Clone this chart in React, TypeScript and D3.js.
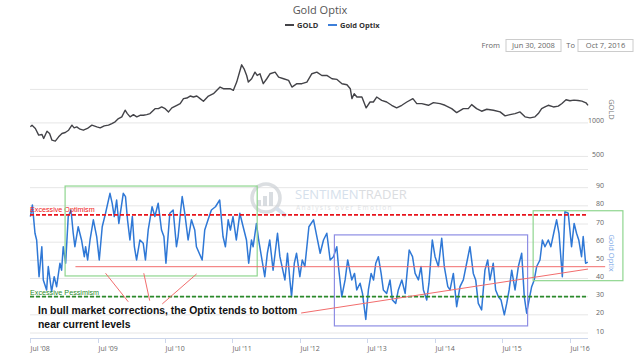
import { useEffect, useRef } from "react";
import * as d3 from "d3";

const rangeStart = "2008-06-30";
const rangeEnd = "2016-10-07";
const rangeFromLabel = "Jun 30, 2008";
const rangeToLabel = "Oct 7, 2016";

// gold close
const gold: [string, number][] = [
  ["2008-07-02", 941], ["2008-07-11", 964], ["2008-07-29", 917], ["2008-08-16", 817], ["2008-09-03", 827],
  ["2008-09-12", 768], ["2008-09-30", 876], ["2008-10-14", 842], ["2008-10-27", 742], ["2008-11-14", 728],
  ["2008-12-02", 792], ["2008-12-20", 842], ["2009-01-07", 857], ["2009-01-25", 891], ["2009-02-12", 966],
  ["2009-02-24", 926], ["2009-03-10", 941], ["2009-03-28", 906], ["2009-04-15", 891], ["2009-05-07", 917],
  ["2009-05-31", 966], ["2009-06-27", 941], ["2009-07-15", 926], ["2009-08-06", 956], ["2009-08-29", 966],
  ["2009-09-16", 990], ["2009-10-04", 1016], ["2009-10-22", 1064], ["2009-11-09", 1090], ["2009-11-27", 1189],
  ["2009-12-09", 1139], ["2009-12-24", 1090], ["2010-01-11", 1124], ["2010-01-29", 1090], ["2010-02-16", 1114],
  ["2010-03-06", 1114], ["2010-03-24", 1124], ["2010-04-11", 1139], ["2010-05-08", 1213], ["2010-05-26", 1213],
  ["2010-06-13", 1238], ["2010-07-02", 1213], ["2010-07-20", 1164], ["2010-08-07", 1224], ["2010-09-03", 1263],
  ["2010-09-21", 1287], ["2010-10-09", 1362], ["2010-10-27", 1371], ["2010-11-14", 1401], ["2010-12-02", 1386],
  ["2010-12-20", 1401], ["2011-01-07", 1362], ["2011-01-25", 1323], ["2011-02-21", 1401], ["2011-03-20", 1436],
  ["2011-04-25", 1535], ["2011-05-13", 1510], ["2011-06-18", 1510], ["2011-07-06", 1486], ["2011-07-24", 1609],
  ["2011-08-11", 1783], ["2011-08-20", 1867], ["2011-09-02", 1807], ["2011-09-16", 1708], ["2011-09-25", 1609],
  ["2011-10-13", 1659], ["2011-10-31", 1758], ["2011-11-12", 1708], ["2011-11-27", 1734], ["2011-12-15", 1585],
  ["2012-01-03", 1659], ["2012-01-21", 1734], ["2012-02-17", 1758], ["2012-03-07", 1684], ["2012-04-03", 1659],
  ["2012-04-30", 1634], ["2012-05-18", 1535], ["2012-06-14", 1585], ["2012-07-11", 1585], ["2012-08-07", 1609],
  ["2012-09-03", 1734], ["2012-09-30", 1758], ["2012-10-27", 1708], ["2012-11-23", 1708], ["2012-12-21", 1659],
  ["2013-01-17", 1649], ["2013-02-13", 1585], ["2013-03-12", 1570], ["2013-03-30", 1510], ["2013-04-08", 1362],
  ["2013-04-20", 1436], ["2013-05-05", 1386], ["2013-06-01", 1386], ["2013-06-24", 1224], ["2013-07-15", 1312],
  ["2013-08-02", 1312], ["2013-08-20", 1386], ["2013-09-16", 1337], ["2013-10-13", 1312], ["2013-11-09", 1263],
  ["2013-12-06", 1224], ["2014-01-03", 1263], ["2014-01-30", 1312], ["2014-03-04", 1362], ["2014-03-25", 1287],
  ["2014-04-21", 1287], ["2014-05-27", 1263], ["2014-06-23", 1302], ["2014-07-29", 1287], ["2014-08-25", 1263],
  ["2014-09-30", 1213], ["2014-10-27", 1154], ["2014-12-02", 1213], ["2014-12-29", 1213], ["2015-01-16", 1273],
  ["2015-02-12", 1213], ["2015-03-11", 1174], ["2015-04-08", 1204], ["2015-05-14", 1189], ["2015-06-19", 1164],
  ["2015-07-16", 1105], ["2015-08-12", 1124], ["2015-09-08", 1139], ["2015-10-05", 1164], ["2015-11-01", 1090],
  ["2015-11-28", 1075], ["2015-12-25", 1090], ["2016-01-12", 1139], ["2016-01-30", 1213], ["2016-02-17", 1238],
  ["2016-03-06", 1263], ["2016-04-03", 1238], ["2016-04-29", 1250], ["2016-05-19", 1290], ["2016-06-10", 1345],
  ["2016-07-01", 1330], ["2016-07-23", 1340], ["2016-08-14", 1335], ["2016-09-04", 1325], ["2016-09-26", 1300],
  ["2016-10-07", 1262],
];

// Gold Optix sentiment
const optix: [string, number][] = [
  ["2008-07-02", 74.1], ["2008-07-13", 80.5], ["2008-07-27", 64.9], ["2008-08-05", 61.2], ["2008-08-18", 41.0],
  ["2008-09-02", 57.5], ["2008-09-10", 39.2], ["2008-09-28", 33.7], ["2008-10-07", 46.6], ["2008-10-25", 32.8],
  ["2008-11-08", 41.0], ["2008-11-21", 35.5], ["2008-12-09", 48.4], ["2008-12-18", 44.6], ["2008-12-27", 57.5],
  ["2009-01-09", 48.4], ["2009-01-23", 74.1], ["2009-02-07", 77.7], ["2009-02-19", 64.9], ["2009-02-28", 57.5],
  ["2009-03-18", 68.5], ["2009-04-05", 61.2], ["2009-04-20", 52.0], ["2009-04-27", 57.5], ["2009-05-08", 50.2],
  ["2009-05-21", 61.2], ["2009-06-08", 72.3], ["2009-06-26", 63.1], ["2009-07-10", 50.2], ["2009-07-26", 68.5],
  ["2009-08-13", 75.9], ["2009-09-06", 86.9], ["2009-09-18", 81.4], ["2009-09-29", 74.1], ["2009-10-12", 83.2],
  ["2009-10-24", 70.3], ["2009-11-17", 86.9], ["2009-11-29", 85.1], ["2009-12-10", 72.3], ["2009-12-23", 61.2],
  ["2010-01-05", 74.1], ["2010-01-16", 57.5], ["2010-01-28", 50.2], ["2010-02-15", 61.2], ["2010-03-05", 59.4],
  ["2010-03-17", 50.2], ["2010-04-01", 66.7], ["2010-04-22", 79.5], ["2010-05-07", 74.1], ["2010-05-25", 81.4],
  ["2010-06-12", 66.7], ["2010-06-25", 63.1], ["2010-07-06", 48.4], ["2010-07-27", 75.9], ["2010-08-14", 77.7],
  ["2010-09-01", 57.5], ["2010-09-10", 63.1], ["2010-09-24", 77.7], ["2010-10-02", 85.1], ["2010-10-16", 75.9],
  ["2010-11-03", 61.2], ["2010-11-21", 72.3], ["2010-12-09", 66.7], ["2010-12-18", 57.5], ["2011-01-18", 50.2],
  ["2011-02-01", 66.7], ["2011-02-19", 72.3], ["2011-03-09", 77.7], ["2011-03-31", 79.5], ["2011-04-23", 83.2],
  ["2011-05-11", 63.1], ["2011-05-24", 57.5], ["2011-06-08", 72.3], ["2011-06-20", 66.7], ["2011-07-04", 74.1],
  ["2011-07-22", 61.2], ["2011-08-10", 75.9], ["2011-08-28", 68.5], ["2011-09-15", 61.2], ["2011-09-27", 48.4],
  ["2011-10-12", 61.2], ["2011-10-21", 57.5], ["2011-11-08", 70.3], ["2011-11-20", 61.2], ["2011-12-23", 41.0],
  ["2012-01-06", 53.9], ["2012-01-19", 61.2], ["2012-02-06", 44.6], ["2012-03-01", 64.9], ["2012-03-14", 52.0],
  ["2012-04-10", 39.2], ["2012-04-24", 53.9], ["2012-05-07", 39.2], ["2012-05-16", 30.0], ["2012-05-31", 48.4],
  ["2012-06-12", 53.9], ["2012-06-30", 41.0], ["2012-07-13", 50.2], ["2012-07-27", 46.6], ["2012-08-18", 68.5],
  ["2012-09-12", 72.3], ["2012-09-30", 63.1], ["2012-10-18", 53.9], ["2012-11-05", 61.2], ["2012-11-23", 64.9],
  ["2012-12-11", 50.2], ["2012-12-29", 52.0], ["2013-01-16", 57.5], ["2013-01-25", 46.6], ["2013-02-12", 30.0],
  ["2013-03-02", 39.2], ["2013-03-16", 50.2], ["2013-04-07", 39.2], ["2013-04-22", 42.8], ["2013-05-04", 33.7],
  ["2013-05-22", 37.4], ["2013-06-04", 31.8], ["2013-06-22", 17.5], ["2013-07-06", 33.7], ["2013-07-21", 42.8],
  ["2013-08-03", 39.2], ["2013-08-15", 48.4], ["2013-08-29", 52.0], ["2013-09-13", 42.8], ["2013-09-25", 33.7],
  ["2013-10-13", 31.8], ["2013-10-31", 39.2], ["2013-11-13", 28.2], ["2013-12-01", 26.3], ["2013-12-15", 33.7],
  ["2014-01-03", 39.2], ["2014-01-21", 31.8], ["2014-02-12", 55.7], ["2014-03-02", 52.0], ["2014-03-16", 42.8],
  ["2014-04-03", 39.2], ["2014-04-17", 46.6], ["2014-04-30", 33.7], ["2014-05-18", 28.2], ["2014-05-30", 37.4],
  ["2014-06-17", 61.2], ["2014-07-02", 52.0], ["2014-07-20", 46.6], ["2014-08-07", 62.1], ["2014-08-21", 46.6],
  ["2014-09-09", 35.5], ["2014-09-21", 33.7], ["2014-10-09", 42.8], ["2014-10-27", 24.5], ["2014-11-14", 35.5],
  ["2014-12-02", 39.2], ["2014-12-20", 48.4], ["2015-01-07", 57.5], ["2015-01-25", 42.8], ["2015-02-07", 39.2],
  ["2015-02-21", 26.3], ["2015-03-11", 22.7], ["2015-03-29", 44.6], ["2015-04-13", 50.2], ["2015-04-25", 39.2],
  ["2015-05-13", 48.4], ["2015-05-26", 33.7], ["2015-06-10", 30.0], ["2015-06-24", 28.2], ["2015-07-12", 20.0],
  ["2015-07-25", 26.3], ["2015-08-07", 33.7], ["2015-08-21", 44.6], ["2015-09-08", 33.7], ["2015-09-26", 46.6],
  ["2015-10-14", 53.9], ["2015-10-28", 30.0], ["2015-11-10", 20.9], ["2015-11-23", 28.2], ["2015-12-07", 35.5],
  ["2015-12-21", 39.2], ["2016-01-03", 46.6], ["2016-01-21", 50.2], ["2016-02-03", 61.2], ["2016-02-17", 57.5],
  ["2016-03-06", 61.2], ["2016-03-20", 57.5], ["2016-04-08", 66.7], ["2016-04-20", 72.3], ["2016-05-03", 64.9],
  ["2016-05-21", 41.0], ["2016-06-04", 76.8], ["2016-06-22", 75.9], ["2016-07-10", 57.5], ["2016-07-24", 70.3],
  ["2016-08-06", 64.9], ["2016-08-18", 61.2], ["2016-09-02", 52.0], ["2016-09-11", 63.1], ["2016-09-24", 48.4],
  ["2016-10-06", 49.0],
];

const optimismLevel = 75;
const pessimismLevel = 30;
const goldGrid = [500, 1000, 1500];
const goldLabels = [500, 1000];
const optixGrid = [10, 20, 30, 40, 50, 60, 70, 80, 90, 100];
const optixLabels = [10, 20, 30, 40, 50, 60, 70, 80, 90];

// hand-drawn markup on the lower pane, in date / value terms
const greenBoxes: [string, string, number, number][] = [
  ["2009-01-06", "2011-11-12", 90.9, 41.4],
  ["2015-12-15", "2017-04-14", 77.3, 38.8],
];
const blueBoxes: [string, string, number, number][] = [["2013-01-03", "2015-11-15", 64.0, 13.9]];
const redSegments: [string, number, string, number][] = [
  ["2009-03-03", 46.5, "2017-01-08", 46.5],
  ["2012-07-07", 21.0, "2016-10-07", 45.2],
  ["2009-08-13", 42.9, "2009-12-14", 27.2],
  ["2010-03-08", 42.9, "2010-04-09", 27.8],
  ["2010-12-19", 42.5, "2010-06-16", 26.0],
];
const noteLines = ["In bull market corrections, the Optix tends to bottom", "near current levels"];

const FONT = "'Open Sans', sans-serif";

export default function App() {
  const ref = useRef<SVGSVGElement>(null);
  useEffect(() => {
    if (!ref.current) return;
    const svg = d3.select(ref.current);
    svg.selectAll("*").remove();
    const parse = d3.timeParse("%Y-%m-%d");
    const left = 30;
    const right = 588;
    const axisY = 338;

    const x = d3.scaleTime().domain([parse(rangeStart)!, parse(rangeEnd)!]).range([left, right]);
    const yG = d3.scaleLinear().domain([500, 1500]).range([156.4, 89.4]);
    const yO = d3.scaleLinear().domain([10, 100]).range([333, 169.5]);

    svg.append("rect").attr("width", 640).attr("height", 354).attr("fill", "#fff");

    // title + legend
    svg.append("text").attr("x", 320).attr("y", 14).attr("text-anchor", "middle")
      .attr("font-family", FONT).attr("font-size", 11).attr("fill", "#555").text("Gold Optix");
    const legend = [
      { name: "GOLD", color: "#434348", x: 285 },
      { name: "Gold Optix", color: "#3d7fd9", x: 328 },
    ];
    legend.forEach((l) => {
      svg.append("line").attr("x1", l.x).attr("x2", l.x + 9).attr("y1", 25).attr("y2", 25)
        .attr("stroke", l.color).attr("stroke-width", 2);
      svg.append("text").attr("x", l.x + 12).attr("y", 27.8).attr("font-family", FONT)
        .attr("font-size", 7.5).attr("font-weight", "bold").attr("fill", "#333").text(l.name);
    });

    // range selector inputs
    const inputs = [
      { label: "From", lx: 500, bx: 506, w: 55, text: rangeFromLabel },
      { label: "To", lx: 575, bx: 578, w: 55, text: rangeToLabel },
    ];
    inputs.forEach((b) => {
      svg.append("text").attr("x", b.lx).attr("y", 48).attr("text-anchor", "end").attr("font-family", FONT)
        .attr("font-size", 7.5).attr("fill", "#666").text(b.label);
      svg.append("rect").attr("x", b.bx).attr("y", 39.5).attr("width", b.w).attr("height", 12)
        .attr("fill", "#fff").attr("stroke", "#ccc").attr("stroke-width", 1);
      svg.append("text").attr("x", b.bx + b.w / 2).attr("y", 48.3).attr("text-anchor", "middle")
        .attr("font-family", FONT).attr("font-size", 7.5).attr("fill", "#666").text(b.text);
    });

    // grids
    goldGrid.forEach((v) => {
      svg.append("line").attr("x1", left).attr("x2", right).attr("y1", yG(v)).attr("y2", yG(v))
        .attr("stroke", "#e6e6e6").attr("stroke-width", 1);
    });
    optixGrid.forEach((v) => {
      svg.append("line").attr("x1", left).attr("x2", right).attr("y1", yO(v)).attr("y2", yO(v))
        .attr("stroke", "#e6e6e6").attr("stroke-width", 1);
    });
    goldLabels.forEach((v) => {
      svg.append("text").attr("x", 604).attr("y", yG(v) + 0.5).attr("text-anchor", "end")
        .attr("font-family", FONT).attr("font-size", 7).attr("fill", "#666").text(v);
    });
    optixLabels.forEach((v) => {
      svg.append("text").attr("x", 604).attr("y", yO(v) + 0.5).attr("text-anchor", "end")
        .attr("font-family", FONT).attr("font-size", 7).attr("fill", "#666").text(v);
    });
    svg.append("text").attr("transform", `translate(609,${yG(1200)}) rotate(90)`).attr("text-anchor", "middle")
      .attr("font-family", FONT).attr("font-size", 7.5).attr("fill", "#777").text("GOLD");
    svg.append("text").attr("transform", `translate(609,${yO(54)}) rotate(90)`).attr("text-anchor", "middle")
      .attr("font-family", FONT).attr("font-size", 7.5).attr("fill", "#7aa6e6").text("Gold Optix");

    // watermark
    const wm = svg.append("g").attr("opacity", 0.75);
    wm.append("circle").attr("cx", 266).attr("cy", 198).attr("r", 14).attr("fill", "none")
      .attr("stroke", "#cfd3d8").attr("stroke-width", 3.5);
    [[259, 6], [265, 10], [271, 14]].forEach(([bx, bh]) => {
      wm.append("rect").attr("x", bx - 2).attr("y", 206 - bh).attr("width", 4).attr("height", bh).attr("fill", "#cdd2d8");
    });
    wm.append("line").attr("x1", 276).attr("y1", 208).attr("x2", 286).attr("y2", 216)
      .attr("stroke", "#c9d6e6").attr("stroke-width", 4);
    wm.append("text").attr("x", 295).attr("y", 198.5).attr("font-family", FONT).attr("font-size", 13)
      .attr("fill", "#c9d6e6").text("SENTIMEN")
      .append("tspan").attr("fill", "#cfd2d6").text("TRADER");
    wm.append("text").attr("x", 296).attr("y", 210).attr("font-family", FONT).attr("font-size", 6.6)
      .attr("letter-spacing", 1.4).attr("fill", "#d6d9dd").text("Analysis over Emotion");

    const date = (d: string) => parse(d)!;

    // gold line
    const goldLine = d3.line<[string, number]>().x((d) => x(date(d[0]))).y((d) => yG(d[1]));
    svg.append("path").attr("d", goldLine(gold)!).attr("fill", "none").attr("stroke", "#434348")
      .attr("stroke-width", 1.4).attr("stroke-linejoin", "round");

    // optix line
    const optixLine = d3.line<[string, number]>().x((d) => x(date(d[0]))).y((d) => yO(d[1]));
    svg.append("path").attr("d", optixLine(optix)!).attr("fill", "none").attr("stroke", "#2f78d6")
      .attr("stroke-width", 1.5).attr("stroke-linejoin", "round");

    // plot lines
    svg.append("line").attr("x1", left).attr("x2", right).attr("y1", yO(optimismLevel)).attr("y2", yO(optimismLevel))
      .attr("stroke", "#e8141c").attr("stroke-width", 1.6).attr("stroke-dasharray", "4,2");
    svg.append("line").attr("x1", left).attr("x2", right).attr("y1", yO(pessimismLevel)).attr("y2", yO(pessimismLevel))
      .attr("stroke", "#2b8a2b").attr("stroke-width", 1.6).attr("stroke-dasharray", "4,2");
    svg.append("text").attr("x", left).attr("y", yO(optimismLevel) - 2.5).attr("font-family", "'Liberation Sans', Arial")
      .attr("font-size", 7.2).attr("fill", "#f01818").text("Excessive Optimism");
    svg.append("text").attr("x", left).attr("y", yO(pessimismLevel) - 2).attr("font-family", "'Liberation Sans', Arial")
      .attr("font-size", 7.2).attr("fill", "#2b8a2b").text("Excessive Pessimism");

    // markup
    greenBoxes.forEach(([a, b, hi, lo]) => {
      svg.append("rect").attr("x", x(date(a))).attr("y", yO(hi)).attr("width", x(date(b)) - x(date(a)))
        .attr("height", yO(lo) - yO(hi)).attr("fill", "none").attr("stroke", "#8fd68f").attr("stroke-width", 1.2);
    });
    blueBoxes.forEach(([a, b, hi, lo]) => {
      svg.append("rect").attr("x", x(date(a))).attr("y", yO(hi)).attr("width", x(date(b)) - x(date(a)))
        .attr("height", yO(lo) - yO(hi)).attr("fill", "none").attr("stroke", "#8e8ee4").attr("stroke-width", 1.2);
    });
    redSegments.forEach(([a, va, b, vb]) => {
      svg.append("line").attr("x1", x(date(a))).attr("y1", yO(va)).attr("x2", x(date(b))).attr("y2", yO(vb))
        .attr("stroke", "#f26d6d").attr("stroke-width", 1);
    });
    noteLines.forEach((t, i) => {
      svg.append("text").attr("x", left + 8).attr("y", axisY - 24 + i * 14)
        .attr("font-family", "'Liberation Sans', Arial").attr("font-weight", "bold").attr("font-size", 10.4)
        .attr("fill", "#111").text(t);
    });

    // x axis
    svg.append("line").attr("x1", left).attr("x2", right).attr("y1", axisY + 0.5).attr("y2", axisY + 0.5)
      .attr("stroke", "#ccd6eb").attr("stroke-width", 1);
    const ticks = d3.timeMonth.range(x.domain()[0], x.domain()[1]).filter((d) => d.getMonth() === 6);
    const fmt = d3.timeFormat("%b '%y");
    ticks.forEach((t) => {
      const tx = Math.round(x(t)) + 0.5;
      svg.append("line").attr("x1", tx).attr("x2", tx).attr("y1", axisY).attr("y2", axisY + 5)
        .attr("stroke", "#ccd6eb").attr("stroke-width", 1);
      svg.append("text").attr("x", tx).attr("y", 351).attr("font-family", FONT).attr("font-size", 7)
        .attr("fill", "#666").text(fmt(t));
    });
  }, []);
  return (
    <svg ref={ref} width={640} height={354} style={{ position: "absolute", left: 0, top: 0 }} />
  );
}
